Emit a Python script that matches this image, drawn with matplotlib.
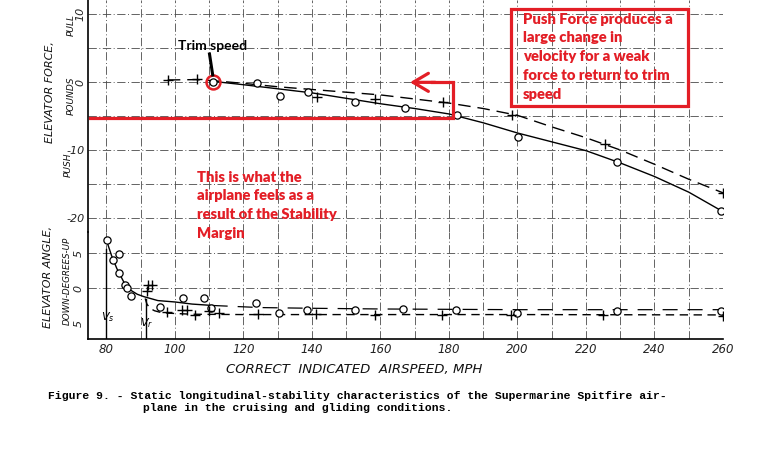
import matplotlib
matplotlib.use("Agg")
import matplotlib.pyplot as plt
from matplotlib.patches import Rectangle
from matplotlib.lines import Line2D

# ---------------- data ----------------
# Elevator force, cruising (circles, solid fairing)
force_circ_speed = [111.0, 123.9, 130.7, 138.7, 152.7, 167.2, 182.2, 200.2, 229.1, 259.4]
force_circ = [0.0, -0.1, -2.1, -1.5, -3.0, -3.8, -4.9, -8.1, -11.8, -18.9]
force_circ_fair_speed = [111, 120, 130, 140, 150, 160, 170, 180, 190, 200, 210, 220, 230, 240, 250, 259.4]
force_circ_fair = [0.1, -0.4, -1.0, -1.6, -2.4, -3.2, -3.9, -4.7, -6.0, -7.5, -8.8, -10.1, -11.9, -13.9, -16.2, -18.9]

# Elevator force, gliding (plus, dashed fairing)
force_plus_speed = [97.9, 106.3, 141.4, 158.4, 178.3, 198.3, 225.5, 260.0]
force_plus = [0.3, 0.4, -2.2, -2.5, -2.9, -4.8, -9.1, -16.3]
force_plus_fair_speed = [97.9, 106, 111, 120, 130, 140, 150, 160, 170, 180, 190, 200, 210, 220, 230, 240, 250, 260]
force_plus_fair = [0.3, 0.35, 0.2, -0.2, -0.7, -1.1, -1.5, -1.9, -2.5, -3.1, -3.9, -4.9, -6.6, -8.2, -10.0, -12.1, -14.3, -16.3]

# Elevator angle, circles
angle_circ_speed = [80.2, 81.8, 83.6, 83.6, 85.5, 85.9, 87.2, 95.6, 102.4, 108.5, 110.5,
                    123.6, 130.4, 138.4, 152.7, 166.5, 182.0, 200.0, 229.0, 259.4]
angle_circ = [6.8, 4.0, 4.8, 2.1, 0.4, 0.05, -1.1, -2.7, -1.5, -1.5, -2.9,
              -2.1, -3.6, -3.2, -3.2, -3.0, -3.2, -3.6, -3.3, -3.3]
angle_circ_fair_speed = [80.2, 81.5, 83, 85, 87, 89, 91, 95, 100, 105, 111]
angle_circ_fair = [6.5, 4.6, 2.8, 0.9, -0.3, -0.9, -1.25, -1.8, -2.0, -2.3, -2.5]
angle_circ_dash_speed = [111, 125, 140, 160, 180, 200, 230, 260]
angle_circ_dash = [-2.5, -2.8, -2.9, -3.0, -3.05, -3.1, -3.1, -3.1]

# Elevator angle, plus
angle_plus_speed = [92.2, 93.2, 91.9, 97.6, 102.0, 103.4, 105.8, 110.0, 112.9,
                    124.1, 141.2, 158.4, 177.9, 198.0, 225.0, 260.0]
angle_plus = [0.4, 0.4, -0.5, -3.4, -3.1, -3.1, -3.9, -3.3, -3.6,
              -3.7, -3.7, -3.9, -3.8, -3.8, -3.8, -4.0]
angle_plus_fair_speed = [91.3, 91.8, 92.7, 94.0, 95.5, 98, 105, 120, 160, 200, 260]
angle_plus_fair = [-1.5, -2.3, -2.9, -3.25, -3.45, -3.6, -3.75, -3.8, -3.8, -3.8, -3.85]

x_ticks = [80, 100, 120, 140, 160, 180, 200, 220, 240, 260]
force_ticks = [10, 0, -10, -20]
force_tick_labels = ["10", "0", "-10", "-20"]
angle_ticks = [5, 0, -5]
angle_tick_labels = ["5", "0", "5"]

trim_speed = 111.0
trim_force = 0.0

# ---------------- figure ----------------
W, H = 775, 449
fig = plt.figure(figsize=(W / 100, H / 100), dpi=100)
fig.patch.set_facecolor("white")

def fx(px):
    return px / W

def fy(py):
    return 1 - py / H

left, right = 88, 723
ax1 = fig.add_axes([fx(left), fy(232), fx(right) - fx(left), fy(0) - fy(232)])
ax2 = fig.add_axes([fx(left), fy(339), fx(right) - fx(left), fy(232) - fy(339)])

XMIN, XMAX = 74.6, 260.0
ax1.set_xlim(XMIN, XMAX)
ax2.set_xlim(XMIN, XMAX)
ax1.set_ylim(-22.06, 12.06)
ax2.set_ylim(-7.29, 8.0)

GRID = dict(color="#4a4a4a", lw=0.6, dashes=(10, 3, 1.2, 3))
for ax in (ax1, ax2):
    for s in ("top", "right"):
        ax.spines[s].set_visible(False)
    ax.spines["left"].set_linewidth(1.2)
    ax.set_facecolor("none")
    for v in range(80, 261, 10):
        ax.axvline(v, zorder=0, **GRID)
ax1.spines["bottom"].set_visible(False)
ax2.spines["bottom"].set_linewidth(1.2)

for h in [10, 5, 0, -5, -10, -15, -20]:
    ax1.axhline(h, zorder=0, **GRID)
for h in [5, 0]:
    ax2.axhline(h, zorder=0, **GRID)

# ticks
ax1.set_xticks([])
ax2.set_xticks(x_ticks)
ax2.set_xticklabels([str(t) for t in x_ticks], fontsize=8.5, style="italic", color="#222222")
ax2.tick_params(axis="x", length=0, pad=3)
ax1.set_yticks(force_ticks)
ax1.set_yticklabels(force_tick_labels, fontsize=8, style="italic", color="#222222")
ax1.tick_params(axis="y", length=0, pad=2)
for lbl, t in zip(ax1.get_yticklabels(), force_ticks):
    if t >= 0:
        lbl.set_rotation(90)
        lbl.set_va("center")
ax2.set_yticks(angle_ticks)
ax2.set_yticklabels(angle_tick_labels, fontsize=8, style="italic", rotation=90, va="center",
                    color="#222222")
ax2.tick_params(axis="y", length=0, pad=3)

# force data
ax1.plot(force_circ_fair_speed, force_circ_fair, color="black", lw=1.0)
ax1.plot(force_plus_fair_speed, force_plus_fair, color="black", lw=1.0, dashes=(9, 5))
ax1.plot(force_circ_speed, force_circ, marker="o", ms=5.2, mfc="white", mec="black", mew=0.9, ls="none")
ax1.plot(force_plus_speed, force_plus, marker="+", ms=6.5, mec="black", mew=1.0, ls="none")

# angle data
ax2.plot(angle_circ_fair_speed, angle_circ_fair, color="black", lw=1.0)
ax2.plot(angle_circ_dash_speed, angle_circ_dash, color="black", lw=0.9, dashes=(12, 8))
ax2.plot(angle_plus_fair_speed, angle_plus_fair, color="black", lw=1.0, dashes=(6, 4))
ax2.plot(angle_circ_speed, angle_circ, marker="o", ms=5.2, mfc="white", mec="black", mew=0.9, ls="none")
ax2.plot(angle_plus_speed, angle_plus, marker="+", ms=6.5, mec="black", mew=1.0, ls="none")
ax2.plot([80, 80], [-7.29, 5.5], color="black", lw=1.0)
ax2.plot([91.5, 91.5], [-7.29, -1.6], color="black", lw=1.0)
ax2.text(80.5, -4.1, r"$V_s$", fontsize=8, ha="center", va="center")
ax2.text(91.8, -5.0, r"$V_r$", fontsize=8, ha="center", va="center")

# axis labels (hand lettering)
lab = dict(style="italic", color="#111111", ha="center", va="center", rotation=90)
fig.text(fx(50), fy(92), "ELEVATOR FORCE,", fontsize=8, **lab)
fig.text(fx(71), fy(96), "POUNDS", fontsize=6.5, **lab)
fig.text(fx(71), fy(25), "PULL", fontsize=6.5, **lab)
fig.text(fx(68), fy(165), "PUSH", fontsize=6.5, **lab)
fig.text(fx(48), fy(277), "ELEVATOR ANGLE,", fontsize=8, **lab)
fig.text(fx(67), fy(281), "DOWN-DEGREES-UP", fontsize=6.3, **lab)
fig.text(fx(354), fy(370), "CORRECT  INDICATED  AIRSPEED, MPH", fontsize=9.5,
         style="italic", ha="center", va="center", color="#111111")

# caption
cap = dict(family="Liberation Mono", weight="bold", fontsize=8.2, va="center", ha="left")
fig.text(fx(48), fy(396), "Figure 9. - Static longitudinal-stability characteristics of the Supermarine Spitfire air-", **cap)
fig.text(fx(143), fy(408), "plane in the cruising and gliding conditions.", **cap)

# ---------------- red annotations ----------------
RED = "#E31E26"
ax1.plot([trim_speed], [trim_force], marker="o", ms=10, mfc="none", mec=RED, mew=1.8, zorder=6)
ax1.plot([XMIN + 0.5, 181.2, 181.2, 175.0], [-5.3, -5.3, -0.05, -0.05], color=RED, lw=2.3,
         solid_joinstyle="miter", zorder=5)
ax1.annotate("", xy=(168.6, -0.05), xytext=(176.0, -0.05),
             arrowprops=dict(arrowstyle="->,head_length=1.1,head_width=0.65", color=RED, lw=2.3,
                             shrinkA=0, shrinkB=0), zorder=5)

fig.text(fx(212.5), fy(46), "Trim speed", family="Lato", weight="bold", fontsize=10,
         ha="center", va="center", color="black")
fig.add_artist(Line2D([fx(209.5), fx(212.7)], [fy(54), fy(75)], color="black", lw=2.2))

fig.add_artist(Rectangle((fx(511), fy(105.7)), fx(687.7) - fx(511), fy(9) - fy(105.7),
                         fill=False, edgecolor=RED, lw=2.3, transform=fig.transFigure))
box_lines = ["Push Force produces a", "large change in", "velocity for a weak",
             "force to return to trim", "speed"]
for i, s in enumerate(box_lines):
    fig.text(fx(523), fy(19 + 18.8 * i), s, family="Lato", weight="heavy", fontsize=10.6,
             color=RED, ha="left", va="center")

mid_lines = ["This is what the", "airplane feels as a", "result of the Stability", "Margin"]
for i, s in enumerate(mid_lines):
    fig.text(fx(197), fy(177 + 18.8 * i), s, family="Lato", weight="heavy", fontsize=10.6,
             color=RED, ha="left", va="center")

fig.savefig("out.png", dpi=100, facecolor="white")
